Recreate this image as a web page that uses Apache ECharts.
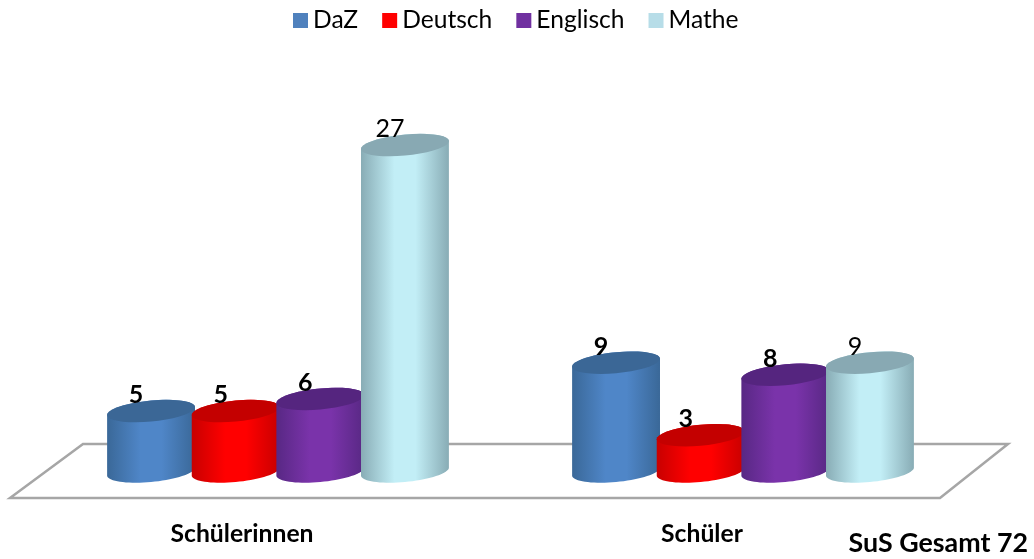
<!DOCTYPE html>
<html>
<head>
<meta charset="utf-8">
<style>
  html, body { margin: 0; padding: 0; background: #fff; }
  #chart { width: 1034px; height: 559px; }
</style>
<script src="https://cdn.jsdelivr.net/npm/echarts@6/dist/echarts.min.js"></script>
</head>
<body>
<div id="chart"></div>
<script>
const categories = ["Schülerinnen", "Schüler"];
const seriesNames = ["DaZ", "Deutsch", "Englisch", "Mathe"];
const daz = [5, 9];
const deutsch = [5, 3];
const englisch = [6, 8];
const mathe = [27, 9];

const fontName = "Lato";
// the category names do not sit under the middle of their groups
const labelPadRight = [72, 82];
// legend colour, body edge, body middle, top of the cylinder, label weight
const looks = [
  { color: "#4f81bd", edge: "#3a6898", mid: "#4f86c8", top: "#3b6796", weight: "bold" },
  { color: "#ff0000", edge: "#c80000", mid: "#ff0000", top: "#c40000", weight: "bold" },
  { color: "#7030a0", edge: "#582884", mid: "#7a33aa", top: "#55257f", weight: "bold" },
  { color: "#b7dde8", edge: "#88acb5", mid: "#c2eef6", top: "#88a9b3", weight: "normal" }
];

// one cylinder: value comes through the axes, the shape is sampled round it
function renderCylinder(params, api) {
  const look = looks[params.seriesIndex];
  const band = api.size([1, 0])[0];
  const top = api.coord([api.value(0), api.value(1)]);
  const base = api.coord([api.value(0), 0]);
  const cx = top[0] + (params.seriesIndex - 1.5) * band * 0.182;
  const a = band * 0.0945, b = 10.5, s = 4;

  const ring = (cy, from, to) => {
    const pts = [];
    for (let i = 0; i <= 36; i++) {
      const t = from + (to - from) * i / 36;
      pts.push([cx + a * Math.cos(t), cy + b * Math.sin(t) - s * Math.cos(t)]);
    }
    return pts;
  };
  // lower half of the base ring, then back over the upper half of the top ring
  const body = ring(base[1], 0, Math.PI).concat(ring(top[1], Math.PI, 2 * Math.PI));

  return {
    type: "group",
    children: [
      {
        type: "polygon",
        shape: { points: body },
        style: {
          fill: new echarts.graphic.LinearGradient(0, 0, 1, 0, [
            { offset: 0, color: look.edge },
            { offset: 0.38, color: look.mid },
            { offset: 0.62, color: look.mid },
            { offset: 1, color: look.edge }
          ])
        }
      },
      {
        type: "polygon",
        shape: { points: ring(top[1], 0, 2 * Math.PI) },
        style: { fill: look.top }
      },
      {
        type: "text",
        style: {
          text: String(api.value(1)),
          x: cx - 15,
          y: top[1] - 16,
          align: "center",
          verticalAlign: "middle",
          fill: "#000",
          font: look.weight + " 25px " + fontName
        }
      }
    ]
  };
}

const myChart = echarts.init(document.getElementById("chart"));
myChart.setOption({
  animation: false,
  backgroundColor: "#fff",
  legend: {
    left: 288,
    top: 3,
    itemWidth: 15,
    itemHeight: 15,
    itemGap: 24,
    icon: "rect",
    data: seriesNames,
    textStyle: { fontFamily: fontName, fontSize: 24.6, color: "#000" }
  },
  grid: { left: 45.5, right: 58.5, top: 108.8, bottom: 87.5 },
  xAxis: {
    type: "category",
    data: categories.map((name, i) => ({
      value: name,
      textStyle: { padding: [0, labelPadRight[i], 0, 0] }
    })),
    axisLine: { show: false },
    axisTick: { show: false },
    axisLabel: {
      margin: 50,
      fontFamily: fontName,
      fontSize: 24.7,
      fontWeight: "bold",
      color: "#000"
    }
  },
  yAxis: { type: "value", min: 0, max: 30, show: false },
  // floor plate and the total note
  graphic: [
    {
      type: "polygon",
      z: 0,
      shape: { points: [[10, 498], [83, 444], [1008, 444], [940, 498]] },
      style: { fill: "#fff", stroke: "#a6a6a6", lineWidth: 2.5 }
    },
    {
      type: "text",
      z: 5,
      style: {
        text: "SuS Gesamt 72",
        x: 1028,
        y: 543,
        align: "right",
        verticalAlign: "middle",
        fill: "#000",
        font: "bold 26.8px " + fontName
      }
    }
  ],
  series: [daz, deutsch, englisch, mathe].map((values, i) => ({
    type: "custom",
    name: seriesNames[i],
    renderItem: renderCylinder,
    itemStyle: { color: looks[i].color },
    encode: { x: 0, y: 1 },
    clip: false,
    z: 2 + i,
    data: values.map((v, c) => [c, v])
  }))
});
</script>
</body>
</html>
